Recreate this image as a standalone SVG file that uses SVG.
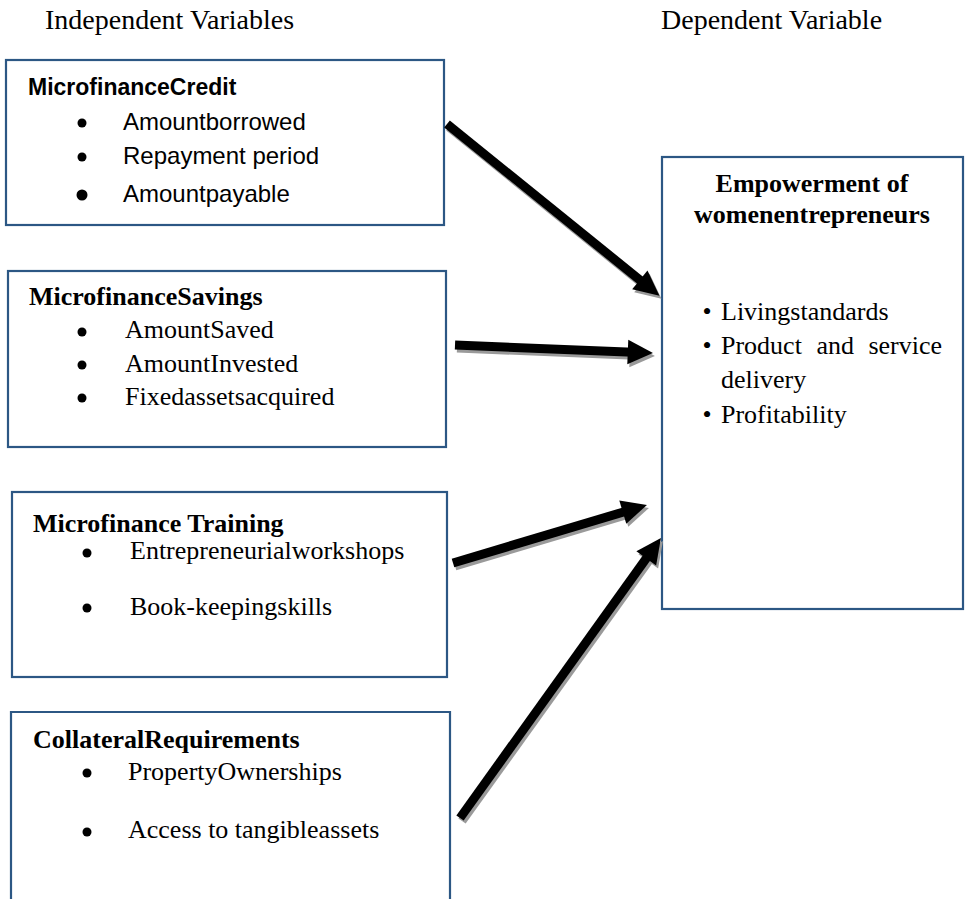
<svg xmlns="http://www.w3.org/2000/svg" width="968" height="899" viewBox="0 0 968 899">
<style>
.box{fill:#fff;stroke:#2C5784;stroke-width:2.2}
.hdr{font-family:"Liberation Serif","Times New Roman",serif;font-size:28px;fill:#000}
.ser{font-family:"Liberation Serif","Times New Roman",serif;font-size:26px;fill:#000}
.serb{font-family:"Liberation Serif","Times New Roman",serif;font-size:26px;font-weight:bold;fill:#000}
.sans{font-family:"Liberation Sans",Arial,sans-serif;font-size:24px;fill:#000}
.sansb{font-family:"Liberation Sans",Arial,sans-serif;font-size:23px;font-weight:bold;fill:#000}
.dot{fill:#000}
.shaft{stroke:#000;stroke-width:9;fill:none}
.shadow{stroke:#9a9a9a;stroke-width:9;fill:none}
</style>
<defs>
<marker id="headBlack" markerWidth="3" markerHeight="3" refX="0.58" refY="1.35" orient="auto" markerUnits="strokeWidth" overflow="visible">
<path d="M0,0 L2.8,1.35 L0,2.7 z" fill="#000"/>
</marker>
<marker id="headGray" markerWidth="3" markerHeight="3" refX="0.58" refY="1.35" orient="auto" markerUnits="strokeWidth" overflow="visible">
<path d="M0,0 L2.8,1.35 L0,2.7 z" fill="#9a9a9a"/>
</marker>
</defs>
<rect width="968" height="899" fill="#fff"/>
<text class="hdr" x="45" y="29">Independent Variables</text>
<text class="hdr" x="661" y="29">Dependent Variable</text>

<g id="node-credit">
<rect class="box" x="6" y="60" width="438" height="165"/>
<text class="sansb" x="28" y="95">MicrofinanceCredit</text>
<circle class="dot" cx="82" cy="123" r="4.5"/>
<text class="sans" x="123" y="130">Amountborrowed</text>
<circle class="dot" cx="82" cy="157" r="4.5"/>
<text class="sans" x="123" y="164">Repayment period</text>
<circle class="dot" cx="82" cy="195" r="5.5"/>
<text class="sans" x="123" y="202">Amountpayable</text>
</g>

<g id="node-savings">
<rect class="box" x="8" y="271" width="438" height="176"/>
<text class="serb" x="29" y="305">MicrofinanceSavings</text>
<circle class="dot" cx="82" cy="332" r="4.5"/>
<text class="ser" x="125" y="338">AmountSaved</text>
<circle class="dot" cx="82" cy="365" r="4.5"/>
<text class="ser" x="125" y="372">AmountInvested</text>
<circle class="dot" cx="82" cy="398" r="4.5"/>
<text class="ser" x="125" y="405">Fixedassetsacquired</text>
</g>

<g id="node-training">
<rect class="box" x="12" y="492" width="435" height="185"/>
<text class="serb" x="33" y="532">Microfinance Training</text>
<circle class="dot" cx="87" cy="553" r="4.5"/>
<text class="ser" x="130" y="559">Entrepreneurialworkshops</text>
<circle class="dot" cx="87" cy="608" r="4.5"/>
<text class="ser" x="130" y="615">Book-keepingskills</text>
</g>

<g id="node-collateral">
<path class="box" d="M11,905 V712 H450 V905"/>
<text class="serb" x="33" y="748">CollateralRequirements</text>
<circle class="dot" cx="87" cy="773" r="4.5"/>
<text class="ser" x="128" y="780">PropertyOwnerships</text>
<circle class="dot" cx="87" cy="832" r="4.5"/>
<text class="ser" x="128" y="838">Access to tangibleassets</text>
</g>

<g id="node-empowerment">
<rect class="box" x="662" y="157" width="301" height="452"/>
<text class="serb" x="812" y="192" text-anchor="middle">Empowerment of</text>
<text class="serb" x="812" y="223" text-anchor="middle">womenentrepreneurs</text>
<text class="ser" x="707" y="320" text-anchor="middle">•</text>
<text class="ser" x="721" y="320">Livingstandards</text>
<text class="ser" x="707" y="354" text-anchor="middle">•</text>
<text class="ser" x="721" y="354" word-spacing="8">Product and service</text>
<text class="ser" x="721" y="388">delivery</text>
<text class="ser" x="707" y="423" text-anchor="middle">•</text>
<text class="ser" x="721" y="423">Profitability</text>
</g>

<g id="connectors">
<g transform="translate(2,3)">
<line class="shadow" x1="447" y1="124" x2="643.9" y2="283.2" marker-end="url(#headGray)"/>
<line class="shadow" x1="455" y1="345" x2="633" y2="352.2" marker-end="url(#headGray)"/>
<line class="shadow" x1="453" y1="563" x2="627.8" y2="510.7" marker-end="url(#headGray)"/>
<line class="shadow" x1="460" y1="818" x2="649.3" y2="554.2" marker-end="url(#headGray)"/>
</g>
<line class="shaft" x1="447" y1="124" x2="643.9" y2="283.2" marker-end="url(#headBlack)"/>
<line class="shaft" x1="455" y1="345" x2="633" y2="352.2" marker-end="url(#headBlack)"/>
<line class="shaft" x1="453" y1="563" x2="627.8" y2="510.7" marker-end="url(#headBlack)"/>
<line class="shaft" x1="460" y1="818" x2="649.3" y2="554.2" marker-end="url(#headBlack)"/>
</g>
</svg>
